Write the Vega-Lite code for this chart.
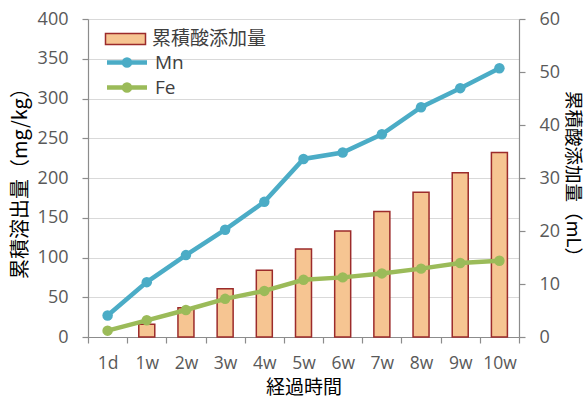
{
  "$schema": "https://vega.github.io/schema/vega-lite/v6.json",
  "width": 431,
  "height": 318,
  "autosize": {"type": "none"},
  "padding": {"left": 88, "top": 19, "right": 69, "bottom": 62},
  "background": "white",
  "config": {
    "view": {"stroke": null},
    "font": "Noto Sans CJK JP",
    "axis": {
      "labelFont": "Open Sans, Noto Sans CJK JP",
      "labelFontSize": 18,
      "labelColor": "#595959",
      "domainColor": "#8C8C8C",
      "tickColor": "#8C8C8C",
      "domainWidth": 1.2,
      "tickWidth": 1.2,
      "tickSize": 6,
      "labelPadding": 14,
      "titleFont": "Noto Sans CJK JP",
      "titleFontSize": 20,
      "titleFontWeight": "normal",
      "titleColor": "#000000",
      "gridColor": "#D9D9D9",
      "gridWidth": 1.2
    },
    "legend": {
      "labelFont": "Open Sans, Noto Sans CJK JP",
      "labelFontSize": 19,
      "labelColor": "#404040",
      "labelOffset": 15.5,
      "padding": 0,
      "title": null
    }
  },
  "datasets": {
    "acid": [
      {"t": "1d", "acid": 0},
      {"t": "1w", "acid": 2.4},
      {"t": "2w", "acid": 5.5},
      {"t": "3w", "acid": 9.1},
      {"t": "4w", "acid": 12.6},
      {"t": "5w", "acid": 16.6},
      {"t": "6w", "acid": 20},
      {"t": "7w", "acid": 23.7},
      {"t": "8w", "acid": 27.3},
      {"t": "9w", "acid": 31},
      {"t": "10w", "acid": 34.8}
    ],
    "elution": [
      {"t": "1d", "element": "Mn", "value": 27},
      {"t": "1w", "element": "Mn", "value": 69},
      {"t": "2w", "element": "Mn", "value": 103},
      {"t": "3w", "element": "Mn", "value": 135},
      {"t": "4w", "element": "Mn", "value": 170},
      {"t": "5w", "element": "Mn", "value": 224},
      {"t": "6w", "element": "Mn", "value": 232},
      {"t": "7w", "element": "Mn", "value": 255},
      {"t": "8w", "element": "Mn", "value": 289},
      {"t": "9w", "element": "Mn", "value": 313},
      {"t": "10w", "element": "Mn", "value": 338},
      {"t": "1d", "element": "Fe", "value": 8},
      {"t": "1w", "element": "Fe", "value": 21},
      {"t": "2w", "element": "Fe", "value": 34},
      {"t": "3w", "element": "Fe", "value": 48},
      {"t": "4w", "element": "Fe", "value": 58},
      {"t": "5w", "element": "Fe", "value": 72},
      {"t": "6w", "element": "Fe", "value": 75},
      {"t": "7w", "element": "Fe", "value": 80},
      {"t": "8w", "element": "Fe", "value": 86},
      {"t": "9w", "element": "Fe", "value": 93},
      {"t": "10w", "element": "Fe", "value": 96}
    ]
  },
  "encoding": {
    "x": {
      "field": "t",
      "type": "ordinal",
      "sort": ["1d", "1w", "2w", "3w", "4w", "5w", "6w", "7w", "8w", "9w", "10w"],
      "scale": {"paddingInner": 0, "paddingOuter": 0},
      "axis": {
        "title": "経過時間",
        "titleFontSize": 19,
        "titleBaseline": "bottom",
        "titleY": 60,
        "labelFontSize": 17.5,
        "labelAngle": 0,
        "tickBand": "extent",
        "labelPadding": 11
      }
    }
  },
  "layer": [
    {
      "data": {"name": "acid"},
      "transform": [{"filter": "datum.acid > 0"}],
      "mark": {"type": "bar", "size": 16, "stroke": "#9C2B2B", "strokeWidth": 1.5},
      "encoding": {
        "y": {
          "field": "acid",
          "type": "quantitative",
          "scale": {"domain": [0, 60]},
          "axis": {
            "orient": "right",
            "title": "累積酸添加量（mL）",
            "titleFontSize": 18.5,
            "values": [0, 10, 20, 30, 40, 50, 60],
            "grid": false,
            "titlePadding": 3
          }
        },
        "fill": {
          "datum": "累積酸添加量",
          "type": "nominal",
          "scale": {"range": ["#F6C592"]},
          "legend": {
            "orient": "none",
            "legendX": 26.5,
            "legendY": 9,
            "symbolType": "M-2,-0.55H2V0.55H-2Z",
            "symbolSize": 400,
            "symbolStrokeColor": "#9C2B2B",
            "symbolStrokeWidth": 1.5,
            "symbolOpacity": 1
          }
        }
      }
    },
    {
      "data": {"name": "elution"},
      "mark": {"type": "line", "strokeWidth": 4.5, "point": {"filled": true, "size": 110}},
      "encoding": {
        "y": {
          "field": "value",
          "type": "quantitative",
          "scale": {"domain": [0, 400]},
          "axis": {
            "orient": "left",
            "title": "累積溶出量（mg/kg）",
            "values": [0, 50, 100, 150, 200, 250, 300, 350, 400],
            "grid": true,
            "titlePadding": 7
          }
        },
        "color": {
          "field": "element",
          "type": "nominal",
          "sort": ["Mn", "Fe"],
          "scale": {"domain": ["Mn", "Fe"], "range": ["#4BACC6", "#9BBB59"]},
          "legend": {
            "orient": "none",
            "legendX": 26.5,
            "legendY": 31,
            "symbolType": "M-2,0H2M0.3,0A0.3,0.3,0,1,1,-0.3,0A0.3,0.3,0,1,1,0.3,0",
            "symbolSize": 400,
            "symbolStrokeWidth": 4.5,
            "rowPadding": -1.5
          }
        }
      }
    }
  ],
  "resolve": {"scale": {"y": "independent"}}
}
